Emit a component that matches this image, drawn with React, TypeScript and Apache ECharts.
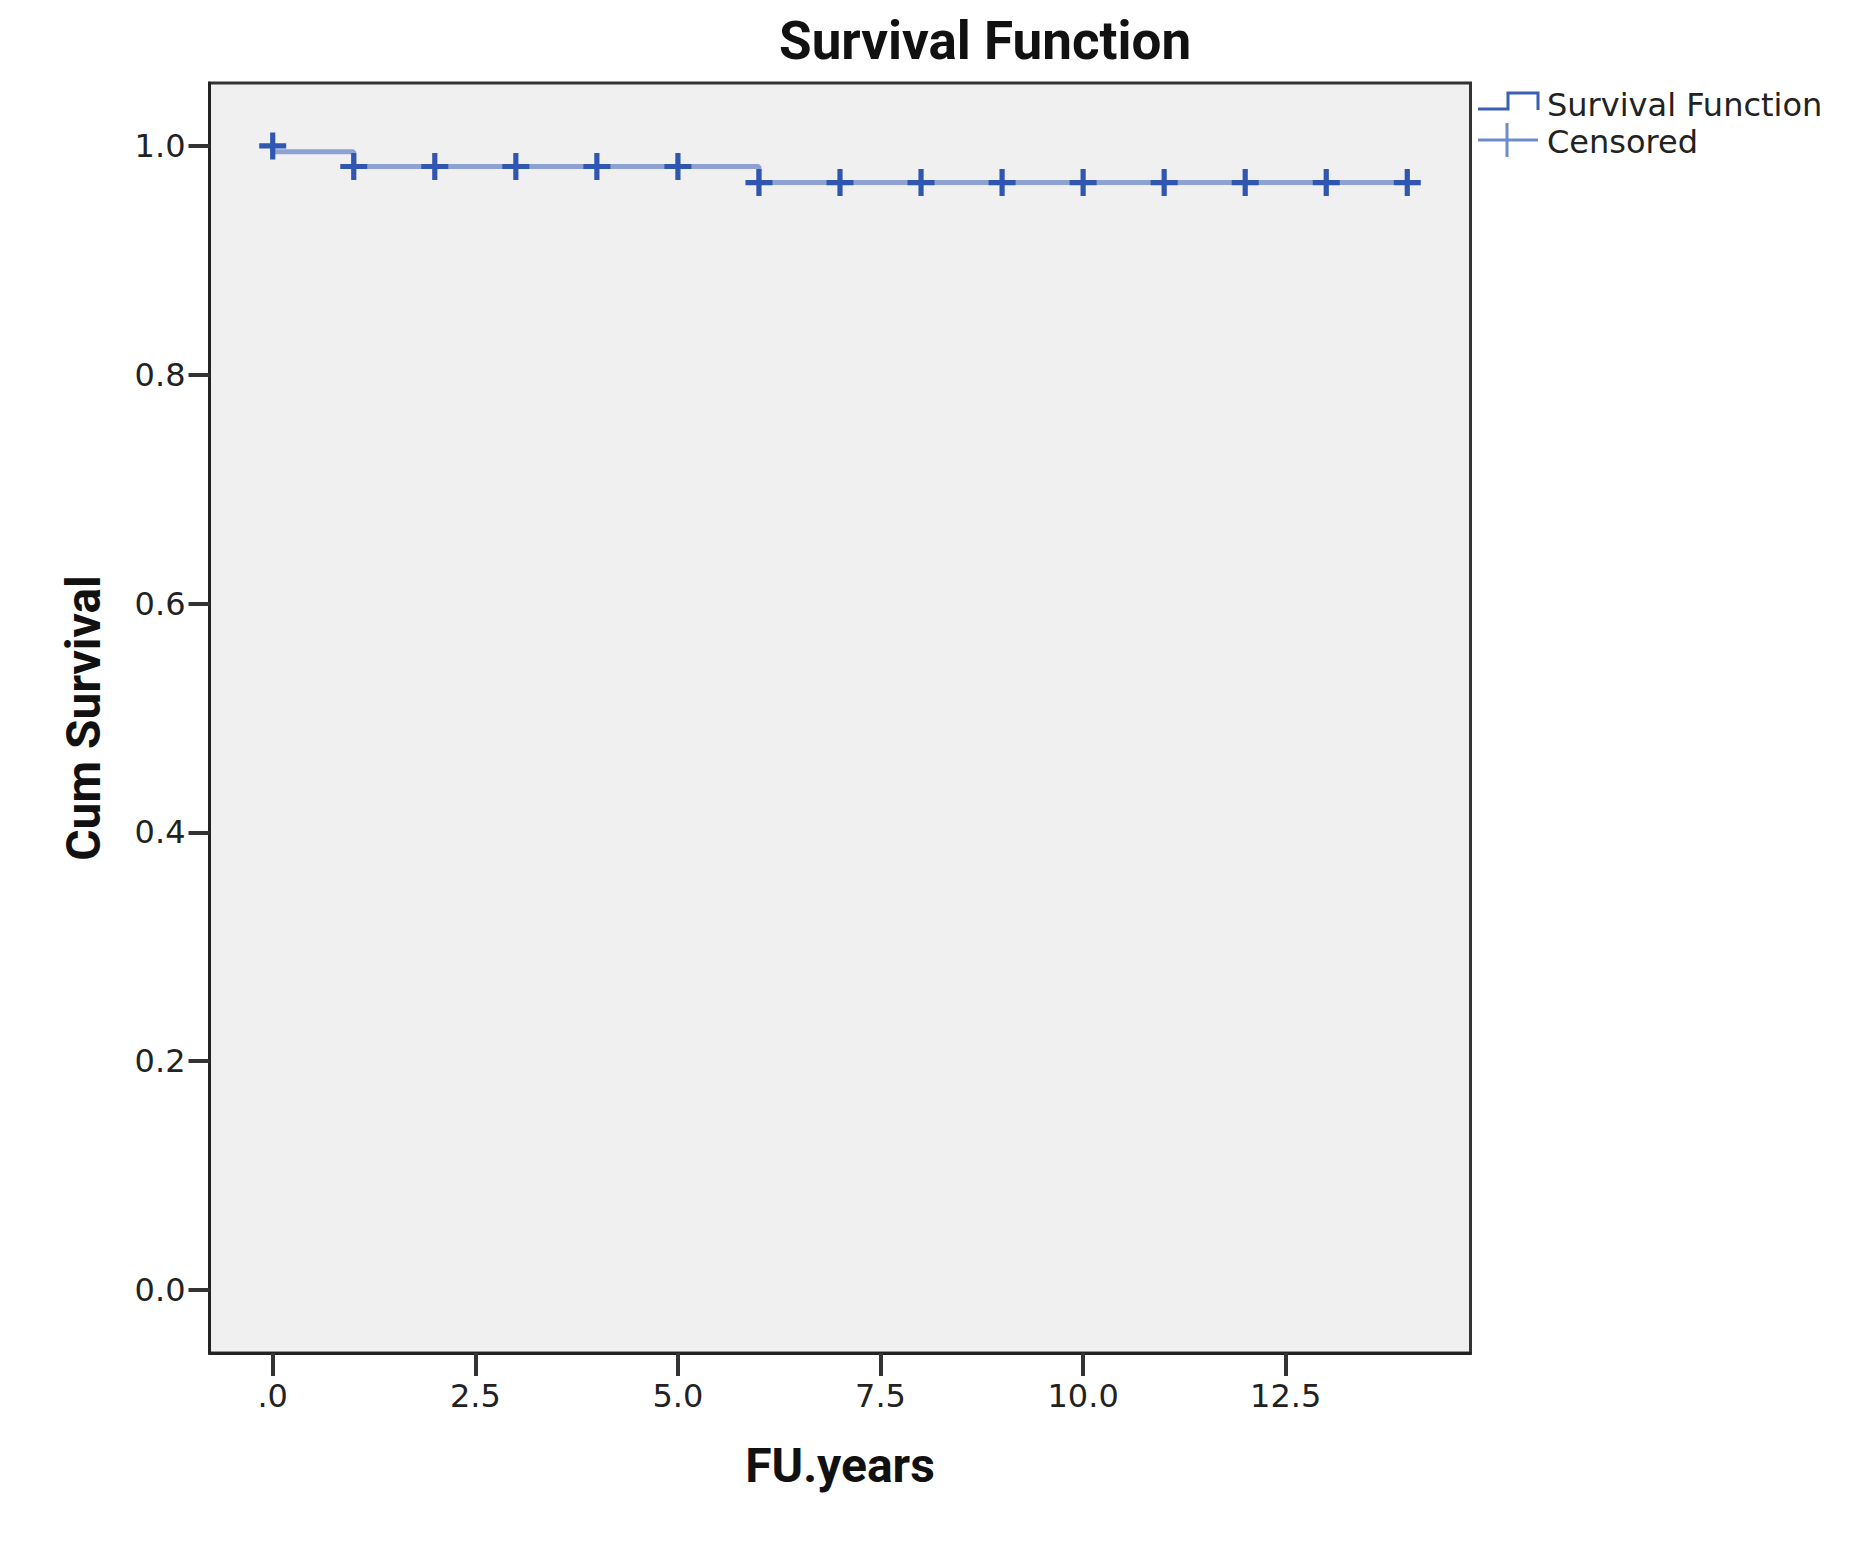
import React, { useEffect, useRef } from "react";
import * as echarts from "echarts";

// ---- data ----
const chartTitle = "Survival Function";
const xAxisTitle = "FU.years";
const yAxisTitle = "Cum Survival";
const xTickValues = [0, 2.5, 5, 7.5, 10, 12.5];
const yTickValues = [0, 0.2, 0.4, 0.6, 0.8, 1.0];
// Kaplan-Meier step curve (step: 'end')
const survivalTimes = [0, 0, 1, 6, 14.1];
const survivalValues = [1.0, 0.995, 0.982, 0.968, 0.968];
// censored observations
const censoredTimes = [0, 1, 2, 3, 4, 5, 6, 7, 8, 9, 10, 11, 12, 13, 14];
const censoredValues = [
  1.0, 0.982, 0.982, 0.982, 0.982, 0.982, 0.968, 0.968, 0.968, 0.968, 0.968,
  0.968, 0.968, 0.968, 0.968,
];
const legendNames = ["Survival Function", "Censored"];

const PLUS =
  "path://M10.5,0 H15.5 V10.5 H26 V15.5 H15.5 V26 H10.5 V15.5 H0 V10.5 H10.5 Z";

export default function App() {
  const ref = useRef<HTMLDivElement>(null);
  useEffect(() => {
    if (!ref.current) return;
    const chart = echarts.init(ref.current, null, { renderer: "svg" });
    const labelFont = {
      fontFamily: "DejaVu Sans",
      fontSize: 32,
      color: "#222",
    };
    const titleFont = {
      fontFamily: "Roboto",
      fontWeight: "bold" as const,
      color: "#111",
    };
    chart.setOption({
      animation: false,
      backgroundColor: "#ffffff",
      title: {
        text: chartTitle,
        left: 771,
        top: 6,
        padding: 0,
        textStyle: { ...titleFont, fontSize: 53 },
      },
      grid: {
        show: true,
        left: 201.5,
        top: 75,
        width: 1261,
        height: 1270,
        backgroundColor: "#f0f0f0",
        borderColor: "#333",
        borderWidth: 3,
      },
      xAxis: {
        type: "value",
        min: -0.78,
        max: 14.78,
        name: xAxisTitle,
        nameLocation: "middle",
        nameGap: 88,
        nameTextStyle: { ...titleFont, fontSize: 48 },
        axisLine: { show: true, onZero: false, lineStyle: { color: "#222", width: 3 } },
        splitLine: { show: false },
        axisTick: {
          show: true,
          inside: false,
          customValues: xTickValues,
          length: 23,
          lineStyle: { color: "#333", width: 4 },
        },
        axisLabel: {
          customValues: xTickValues,
          margin: 27,
          ...labelFont,
          formatter: (v: number) => (v === 0 ? ".0" : v.toFixed(1)),
        },
      },
      yAxis: {
        type: "value",
        min: -0.055,
        max: 1.055,
        name: yAxisTitle,
        nameLocation: "middle",
        nameGap: 102,
        nameRotate: 90,
        nameTextStyle: { ...titleFont, fontSize: 48 },
        axisLine: { show: true, onZero: false, lineStyle: { color: "#222", width: 3 } },
        splitLine: { show: false },
        axisTick: {
          show: true,
          inside: false,
          customValues: yTickValues,
          length: 21,
          lineStyle: { color: "#333", width: 4 },
        },
        axisLabel: {
          customValues: yTickValues,
          margin: 24,
          ...labelFont,
          formatter: (v: number) => v.toFixed(1),
        },
      },
      series: [
        {
          name: legendNames[0],
          type: "line",
          step: "end",
          showSymbol: false,
          symbol: "none",
          data: survivalTimes.map((t, i) => [t, survivalValues[i]]),
          lineStyle: { color: "#8ea1d3", width: 5 },
          z: 2,
        },
        {
          name: legendNames[1],
          type: "scatter",
          symbol: PLUS,
          symbolSize: [27, 27],
          data: censoredTimes.map((t, i) => [t, censoredValues[i]]),
          itemStyle: { color: "#2f56b0", opacity: 1 },
          z: 3,
        },
      ],
      graphic: [
        {
          type: "polyline",
          shape: {
            points: [
              [1470, 101],
              [1500, 101],
              [1500, 85],
              [1530, 85],
              [1530, 102],
            ],
          },
          style: { stroke: "#3a5fb5", lineWidth: 3, fill: null },
        },
        {
          type: "text",
          x: 1539,
          y: 97,
          style: {
            text: legendNames[0],
            fontFamily: "DejaVu Sans",
            fontSize: 32,
            fill: "#222",
            verticalAlign: "middle",
          },
        },
        {
          type: "line",
          shape: { x1: 1470, y1: 132, x2: 1530, y2: 132 },
          style: { stroke: "#6f8bcb", lineWidth: 3 },
        },
        {
          type: "line",
          shape: { x1: 1499, y1: 115, x2: 1499, y2: 149 },
          style: { stroke: "#6f8bcb", lineWidth: 3 },
        },
        {
          type: "text",
          x: 1539,
          y: 134,
          style: {
            text: legendNames[1],
            fontFamily: "DejaVu Sans",
            fontSize: 32,
            fill: "#222",
            verticalAlign: "middle",
          },
        },
      ],
    });
    return () => chart.dispose();
  }, []);
  return <div ref={ref} style={{ width: 1839, height: 1542 }} />;
}
